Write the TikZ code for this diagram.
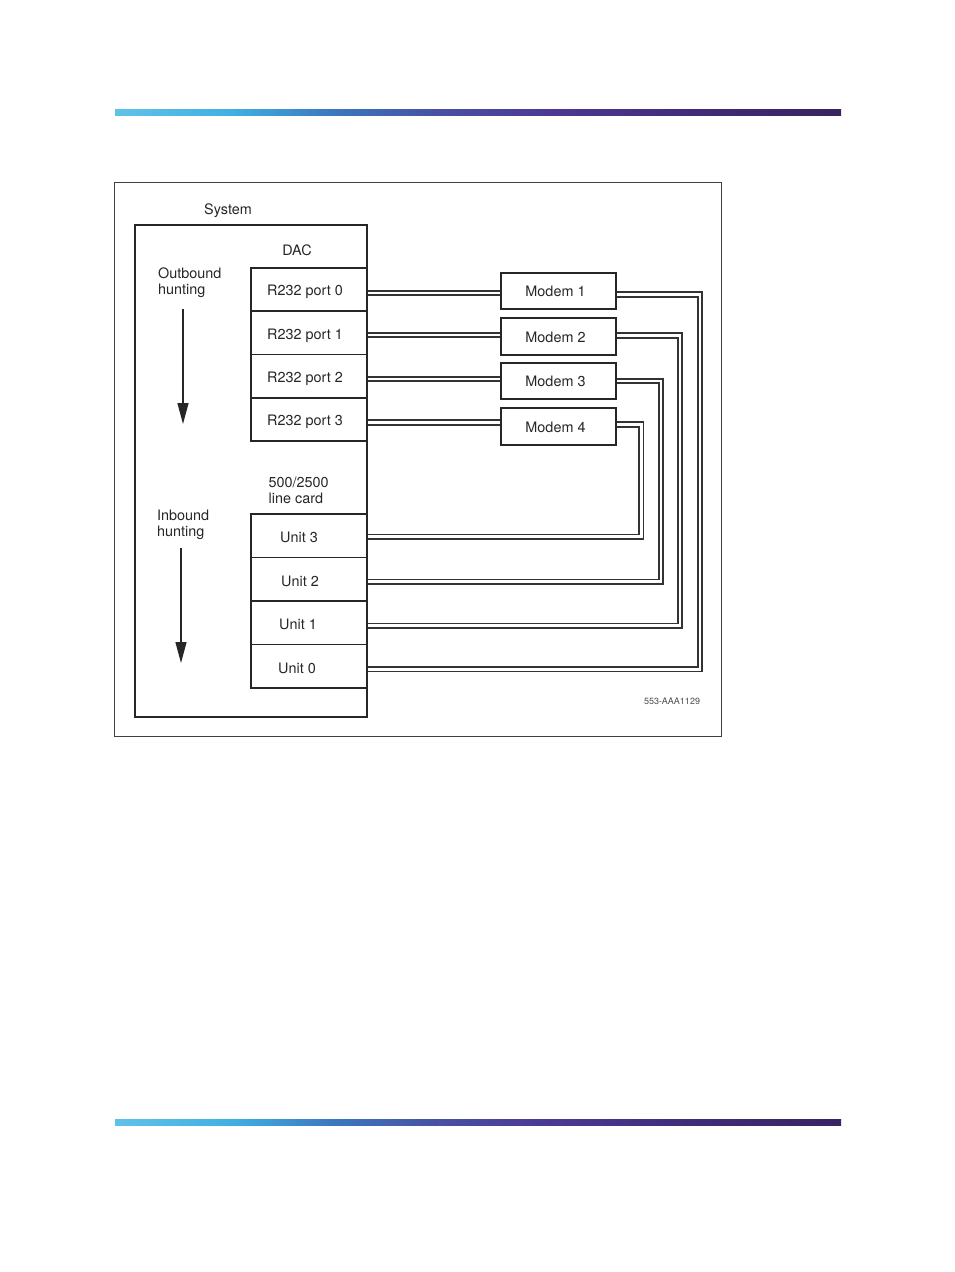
\documentclass[tikz,border=0pt]{standalone}
\usepackage{fontspec}
\setmainfont{TeX Gyre Heros}
\usetikzlibrary{arrows.meta}
\pgfdeclarehorizontalshading{navbar}{100bp}{rgb(0bp)=(0.38,0.76,0.91); rgb(25bp)=(0.38,0.76,0.91); rgb(33bp)=(0.25,0.69,0.89); rgb(40bp)=(0.23,0.47,0.75); rgb(47bp)=(0.28,0.32,0.64); rgb(55bp)=(0.30,0.22,0.58); rgb(65bp)=(0.25,0.17,0.47); rgb(75bp)=(0.22,0.14,0.38); rgb(100bp)=(0.22,0.14,0.38)}
\tikzset{
  txt/.style={font=\fontsize{14.4pt}{16pt}\selectfont, text=black!85, inner sep=0pt},
  box/.style={draw=black!85, line width=1.6pt, minimum width=116pt, inner sep=0pt, font=\fontsize{14.4pt}{16pt}\selectfont, text=black!85},
  portbox/.style={box, minimum height=43.25pt},
  unitbox/.style={box, minimum height=43.5pt},
  modembox/.style={box, minimum width=115pt, minimum height=36.5pt},
  conn/.style={double=white, double distance=2.6pt, line width=1.8pt, draw=black!80},
  hunt/.style={-{Triangle[length=21pt,width=11pt]}, line width=1.3pt, draw=black!85, fill=black!85}
}
\begin{document}
\begin{tikzpicture}[x=1pt,y=-1pt]
\useasboundingbox (0,0) rectangle (954,1272);
% header and footer bars
\shade[shading=navbar] (115,109) rectangle (841,115.5);
\shade[shading=navbar] (115,1119) rectangle (841,1125.5);
% frame
\draw[black!75, line width=0.9pt] (114,182) rectangle (721,736);
% system box
\node[txt] (systxt) at (228,211) {System};
\draw[black!85, line width=1.6pt] (135,225) rectangle (367,717);
\node[txt] (dac) at (297,250) {DAC};
% ports
\node[portbox, label={[txt,xshift=-4pt,yshift=-2.5pt]center:R232 port 0}] (p0) at (309,289.6) {};
\node[portbox, label={[txt,xshift=-4pt,yshift=-2.5pt]center:R232 port 1}] (p1) at (309,332.9) {};
\node[portbox, label={[txt,xshift=-4pt,yshift=-2.5pt]center:R232 port 2}] (p2) at (309,376.1) {};
\node[portbox, label={[txt,xshift=-4pt,yshift=-2.5pt]center:R232 port 3}] (p3) at (309,419.4) {};
% line card
\node[txt, anchor=west, align=left] (lc) at (268.5,490) {500/2500\\line card};
\node[unitbox, label={[txt,xshift=-10pt,yshift=-2pt]center:Unit 3}] (u3) at (309,535.75) {};
\node[unitbox, label={[txt,xshift=-9pt,yshift=-2pt]center:Unit 2}] (u2) at (309,579.25) {};
\node[unitbox, label={[txt,xshift=-11pt,yshift=-2pt]center:Unit 1}] (u1) at (309,622.75) {};
\node[unitbox, label={[txt,xshift=-12pt,yshift=-2pt]center:Unit 0}] (u0) at (309,666.25) {};
% hunting labels and arrows
\node[txt, anchor=west, align=left] (ob) at (158,283) {Outbound\\hunting};
\coordinate (oa1) at (183,309);
\coordinate (oa2) at (183,424);
\draw[hunt] (oa1) -- (oa2);
\node[txt, anchor=west, align=left] (ib) at (157,525) {Inbound\\hunting};
\coordinate (ia1) at (181,548);
\coordinate (ia2) at (181,663);
\draw[hunt] (ia1) -- (ia2);
% modems
\node[modembox, label={[txt,xshift=-3pt,yshift=-0.5pt]center:Modem 1}] (m1) at (558.5,291) {};
\node[modembox, label={[txt,xshift=-3pt,yshift=-0.5pt]center:Modem 2}] (m2) at (558.5,336.5) {};
\node[modembox, label={[txt,xshift=-3pt,yshift=-0.5pt]center:Modem 3}] (m3) at (558.5,381) {};
\node[modembox, label={[txt,xshift=-3pt,yshift=-0.5pt]center:Modem 4}] (m4) at (558.5,426.5) {};
% port to modem connectors
\draw[conn] ([yshift=-3.5pt]p0.east) -- ([yshift=-3.5pt]p0.east -| m1.west);
\draw[conn] ([yshift=-2pt]p1.east) -- ([yshift=-2pt]p1.east -| m2.west);
\draw[conn] ([yshift=-3pt]p2.east) -- ([yshift=-3pt]p2.east -| m3.west);
\draw[conn] ([yshift=-3pt]p3.east) -- ([yshift=-3pt]p3.east -| m4.west);
% modem to unit connectors
\draw[conn] ([yshift=-3.5pt]m1.east) -- ++(83,0) |- ([yshift=-3pt]u0.east);
\draw[conn] ([yshift=1pt]m2.east) -- ++(63,0) |- ([yshift=-3pt]u1.east);
\draw[conn] (m3.east) -- ++(44,0) |- ([yshift=-2.5pt]u2.east);
\draw[conn] ([yshift=2pt]m4.east) -- ++(24.5,0) |- ([yshift=-1pt]u3.east);
% figure id
\node[font=\fontsize{9pt}{10pt}\selectfont, text=black!70, inner sep=0pt] (fid) at (672,701.5) {553-AAA1129};
\end{tikzpicture}
\end{document}
